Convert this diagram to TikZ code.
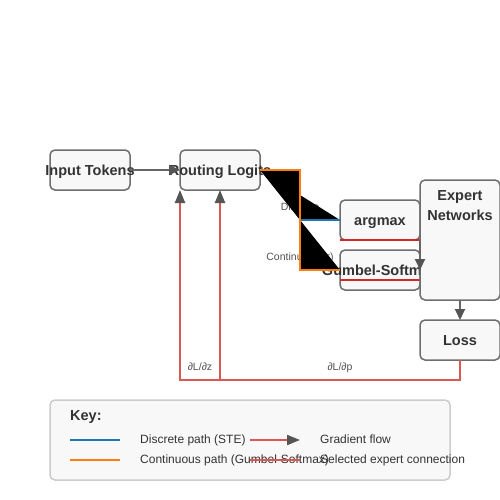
\documentclass[tikz,border=0pt]{standalone}
\usepackage{fontspec}
\setmainfont{Liberation Sans}
\usetikzlibrary{arrows.meta,calc}
\definecolor{txt}{HTML}{333333}
\definecolor{boxfill}{HTML}{F8F8F8}
\definecolor{boxdraw}{HTML}{6E6E6E}
\definecolor{arrowgray}{HTML}{555555}
\definecolor{linegray}{HTML}{666666}
\definecolor{gradred}{HTML}{DD5555}
\definecolor{selred}{HTML}{D62728}
\definecolor{stblue}{HTML}{1F77B4}
\definecolor{gsorange}{HTML}{FF7F0E}
\definecolor{keydraw}{HTML}{CCCCCC}
\begin{document}
\begin{tikzpicture}[x=1pt,y=-1pt,
  box/.style={draw=boxdraw, fill=boxfill, line width=1.5pt, rounded corners=5pt, inner sep=0pt, outer sep=0pt},
  lbl/.style={text=txt, font=\fontsize{14.5}{16}\selectfont\bfseries, inner sep=0pt, anchor=base},
  small/.style={text=txt!85!white, font=\fontsize{10.5}{12}\selectfont, inner sep=0pt, anchor=base},
  keytxt/.style={text=txt, font=\fontsize{12}{14}\selectfont, inner sep=0pt, anchor=base west},
  tip/.style={-{Triangle[length=11pt,width=10pt,color=arrowgray]}},
  grayarrow/.style={draw=linegray, line width=2pt, tip},
  grad/.style={draw=gradred, line width=2pt},
  gradarrow/.style={grad, -{Triangle[length=13pt,width=10pt,color=arrowgray]}},
  sel/.style={draw=selred, line width=2pt}
]
\useasboundingbox (0,0) rectangle (500,500);
\fill[white] (0,0) rectangle (500,500);

% input and routing
\node[box, minimum width=80pt, minimum height=40pt] (input) at (90,170) {};
\node[lbl] (inputT) at (90,175) {Input Tokens};
\node[box, minimum width=80pt, minimum height=40pt] (logits) at (220,170) {};
\node[lbl] (logitsT) at (220,175) {Routing Logits};
\draw[grayarrow] (input.east) -- (logits.west);

% path labels
\node[small] (discL) at (300,210) {Discrete};
\node[small] (contL) at (300,260) {Continuous (τ)};

% boxes on the right
\node[box, minimum width=80pt, minimum height=40pt] (argmax) at (380,220) {};
\node[lbl] (argmaxT) at (380,225) {argmax};
\node[box, minimum width=80pt, minimum height=40pt] (gumbel) at (380,270) {};
\node[lbl] (gumbelT) at (380,275) {Gumbel-Softmax};

% paths (filled black like the reference)
\filldraw[fill=black, draw=stblue, line width=2pt] (logits.east) -- ++(40,0) |- (argmax.west);
\filldraw[fill=black, draw=gsorange, line width=2pt] (logits.east) -- ++(40,0) |- (gumbel.west);

% selected expert lines
\draw[sel] (argmax.south west) -- (argmax.south east);
\draw[sel] ($(gumbel.west)+(0,10)$) -- ($(gumbel.east)+(0,10)$);

% expert and loss
\node[box, minimum width=80pt, minimum height=120pt] (expert) at (460,240) {};
\node[lbl] (expertT1) at (460,200) {Expert};
\node[lbl] (expertT2) at (460,220) {Networks};
\draw[grayarrow] (argmax.south east) -- (gumbel.east);
\node[box, minimum width=80pt, minimum height=40pt] (loss) at (460,340) {};
\node[lbl] (lossT) at (460,345) {Loss};
\draw[grayarrow] (expert.south) -- (loss.north);

% gradient flow
\coordinate (gb) at (460,380);
\draw[gradarrow] (loss.south) -- (gb) -| (logits.south west);
\draw[gradarrow] (gb -| logits.south) -- (logits.south);
\node[small] (dz) at (200,370) {∂L/∂z};
\node[small] (dp) at (340,370) {∂L/∂p};

% key
\node[draw=keydraw, fill=boxfill, line width=1.5pt, rounded corners=5pt, minimum width=400pt, minimum height=80pt, inner sep=0pt] (key) at (250,440) {};
\node[text=txt, font=\fontsize{14.5}{16}\selectfont\bfseries, inner sep=0pt, anchor=base west] (keyT) at (70,420) {Key:};
\coordinate (k1a) at (70,440); \coordinate (k1b) at (120,440);
\coordinate (k2a) at (70,460); \coordinate (k2b) at (120,460);
\coordinate (k3a) at (250,440); \coordinate (k3b) at (300,440);
\coordinate (k4a) at (250,460); \coordinate (k4b) at (300,460);
\draw[stblue, line width=2pt] (k1a) -- (k1b);
\draw[gsorange, line width=2pt] (k2a) -- (k2b);
\node[keytxt] (kt1) at (140,443.5) {Discrete path (STE)};
\node[keytxt] (kt2) at (140,463.5) {Continuous path (Gumbel-Softmax)};
\draw[gradarrow] (k3a) -- (k3b);
\draw[grad] (k4a) -- (k4b);
\node[keytxt] (kt3) at (320,443.5) {Gradient flow};
\node[keytxt] (kt4) at (320,463.5) {Selected expert connection};
\end{tikzpicture}
\end{document}
